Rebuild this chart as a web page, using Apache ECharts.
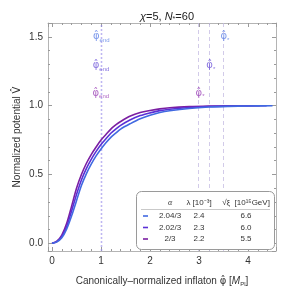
<!DOCTYPE html>
<html><head><meta charset="utf-8">
<script src="https://cdn.jsdelivr.net/npm/echarts@6/dist/echarts.min.js"></script>
<style>html,body{margin:0;padding:0;background:#fff}#c{width:289px;height:292px}</style>
</head><body><div id="c"></div>
<script>
// ---- data ----
const phiGrid = [0,0.1,0.2,0.3,0.4,0.5,0.6,0.7,0.8,0.9,1.0,1.1,1.2,1.3,1.4,1.6,1.8,2.0,2.2,2.4,2.8,3.2,3.6,4.0];
const alphaLabels = ['2.04/3','2.02/3','2/3'];
const lambdaVals = ['2.4','2.3','2.2'];
const sqrtXiVals = ['6.6','6.0','5.5'];
const phiLast = [4.5, 4.38, 4.24];
const vA = [0,0.010,0.040,0.105,0.200,0.310,0.420,0.505,0.575,0.635,0.685,0.730,0.770,0.800,0.830,0.870,0.905,0.930,0.950,0.963,0.980,0.990,0.995,0.998,1.0];
const vB = [0,0.012,0.050,0.122,0.235,0.355,0.460,0.543,0.610,0.668,0.718,0.760,0.800,0.830,0.857,0.898,0.928,0.948,0.964,0.974,0.987,0.994,0.997,0.999,1.0];
const vC = [0,0.015,0.060,0.145,0.270,0.400,0.500,0.580,0.645,0.700,0.750,0.790,0.830,0.860,0.885,0.925,0.950,0.965,0.977,0.985,0.993,0.997,0.999,1.0,1.0];
const phiEnd = [1.015, 1.01, 1.005];
const phiStar = [3.50, 3.21, 2.99];
const labelRowV = [1.50, 1.29, 1.09];
const xTicks = [0,1,2,3,4];
const yTicks = [0.0,0.5,1.0,1.5];

// ---- styling ----
const lineColors = ['#4169e1','#5a30d6','#7b1fa2'];
const labelColors = ['#5b7fe6','#6a50d8','#9a3fb5'];
const FONT = '"Liberation Sans", Arial, sans-serif';
const DJ = '"DejaVu Sans", sans-serif';
const values = [vA, vB, vC];

const chart = echarts.init(document.getElementById('c'), null, {renderer:'canvas'});

const series = [];
[2,1,0].forEach(i => {
  const xs = phiGrid.concat([phiLast[i]]);
  series.push({
    type:'line', name: alphaLabels[i], smooth: 0.3, symbol:'none',
    data: xs.map((x,k)=>[x, values[i][k]]),
    lineStyle:{color: lineColors[i], width: 1.6},
    z: 5,
    markLine: {
      silent: true, symbol: 'none', label:{show:false},
      emphasis:{disabled:true},
      data: [{xAxis: phiEnd[i], lineStyle:{width:1.4, type:[2,2], color:'rgba(150,140,235,0.28)'}},
             {xAxis: phiStar[i], lineStyle:{width:1, type:[4,3], color:'rgba(195,185,225,0.75)'}}]
    }
  });
});

function phiLabel(sub, color){
  return {
    formatter: '{p|φ̂}{s|' + sub + '}',
    rich:{
      p:{color:color, fontSize:10, fontFamily:DJ},
      s:{color:color, fontSize:6, fontFamily:FONT, padding:[7,0,0,0]}
    }
  };
}
const labelData = [];
for (let i=0;i<3;i++){
  labelData.push({value:[phiEnd[i]-0.01, labelRowV[i]], label: phiLabel('end', labelColors[i])});
  labelData.push({value:[phiStar[i]+0.03, labelRowV[i]], label: phiLabel('*', labelColors[i])});
}
series.push({
  type:'scatter', symbolSize:0, silent:true, z:6,
  data: labelData,
  label:{show:true, position:'inside', align:'center', verticalAlign:'middle'}
});

const tickColor = '#9a9a9a';
function xAxisCfg(pos, showLabel){
  return {
    type:'value', position: pos, min:-0.082, max:4.571, splitNumber:5,
    axisLine:{show:true, onZero:false, lineStyle:{color:'#b4b4b4', width:1}},
    axisTick:{show:true, inside:true, length:4, lineStyle:{color:tickColor}},
    minorTick:{show:true, splitNumber:5, length:2, lineStyle:{color:tickColor}},
    splitLine:{show:false},
    axisLabel:{show:showLabel, color:'#333', fontSize:10, fontFamily:FONT, margin:5,
      formatter: v => xTicks.some(t=>Math.abs(t-v)<1e-6) ? String(Math.round(v)) : ''},
    name: showLabel ? '{n|Canonically–normalized inflaton }{f|φ̂}{n| [}{i|M}{s|Pl}{n|]}' : '',
    nameLocation:'middle', nameGap: 24, nameMoveOverlap:false,
    nameTextStyle:{rich:{n:{fontSize:10,color:'#333',fontFamily:FONT}, f:{fontSize:10,color:'#333',fontFamily:DJ}, i:{fontSize:10,color:'#333',fontFamily:FONT,fontStyle:'italic'}, s:{fontSize:6,color:'#333',fontFamily:FONT,padding:[6,0,0,0]}}}
  };
}
function yAxisCfg(pos, showLabel){
  return {
    type:'value', position: pos, min:-0.056, max:1.601, splitNumber:3,
    axisLine:{show:true, onZero:false, lineStyle:{color:'#b4b4b4', width:1}},
    axisTick:{show:true, inside:true, length:4, lineStyle:{color:tickColor}},
    minorTick:{show:true, splitNumber:5, length:2, lineStyle:{color:tickColor}},
    splitLine:{show:false},
    axisLabel:{show:showLabel, color:'#333', fontSize:10, fontFamily:FONT, margin:5,
      formatter: v => yTicks.some(t=>Math.abs(t-v)<1e-6) ? v.toFixed(1) : ''},
    name: showLabel ? '{n|Normalized potential }{f|V̂}' : '',
    nameLocation:'middle', nameGap: 26, nameRotate: 90, nameMoveOverlap:false,
    nameTextStyle:{rich:{n:{fontSize:10, color:'#333', fontFamily:FONT}, f:{fontSize:10, color:'#333', fontFamily:DJ}}}
  };
}

// legend table
const g = [];
g.push({type:'rect', shape:{x:136.5, y:191.5, width:138, height:58, r:5}, style:{fill:'#fff', stroke:'#9a9a9a', lineWidth:1}, z:100});
g.push({type:'line', shape:{x1:141, y1:209.5, x2:270, y2:209.5}, style:{stroke:'#bbb', lineWidth:0.8}, z:101});
const colX = [170, 199, 246];
const hdrY = 203;
const rowY = [216, 227.5, 239];
const tstyle = (txt, x, y, extra) => ({type:'text', z:102, style:Object.assign({text:txt, x:x, y:y, align:'center', verticalAlign:'middle', fill:'#333', font:'8px '+FONT}, extra||{})});
g.push(tstyle('α', colX[0], hdrY, {font:'italic 8px "Liberation Serif", serif'}));
g.push(tstyle('λ [10⁻³]', colX[1], hdrY));
g.push(tstyle('√ξ  [10¹⁵GeV]', colX[2], hdrY));
for (let i=0;i<3;i++){
  g.push({type:'line', z:102, shape:{x1:143, y1:rowY[i], x2:148, y2:rowY[i]}, style:{stroke:lineColors[i], lineWidth:1.6}});
  g.push(tstyle(alphaLabels[i], colX[0], rowY[i]));
  g.push(tstyle(lambdaVals[i], colX[1], rowY[i]));
  g.push(tstyle(sqrtXiVals[i], colX[2], rowY[i]));
}

chart.setOption({
  animation:false,
  backgroundColor:'#fff',
  title:{text:'{i|χ}{n|=5, }{i|N}{s|*}{n|=60}', left:162, textAlign:'center', top:5,
    textStyle:{fontWeight:'normal', rich:{n:{fontSize:11,color:'#222',fontFamily:FONT,fontWeight:'normal'}, i:{fontSize:11,color:'#222',fontFamily:FONT,fontStyle:'italic',fontWeight:'normal'}, s:{fontSize:7,color:'#222',fontFamily:FONT,fontWeight:'normal',padding:[6,0,0,0]}}}},
  grid:{left:48, right:13, top:23, bottom:40, containLabel:false},
  xAxis:[xAxisCfg('bottom', true), xAxisCfg('top', false)],
  yAxis:[yAxisCfg('left', true), yAxisCfg('right', false)],
  series: series,
  graphic: g
});
</script></body></html>
